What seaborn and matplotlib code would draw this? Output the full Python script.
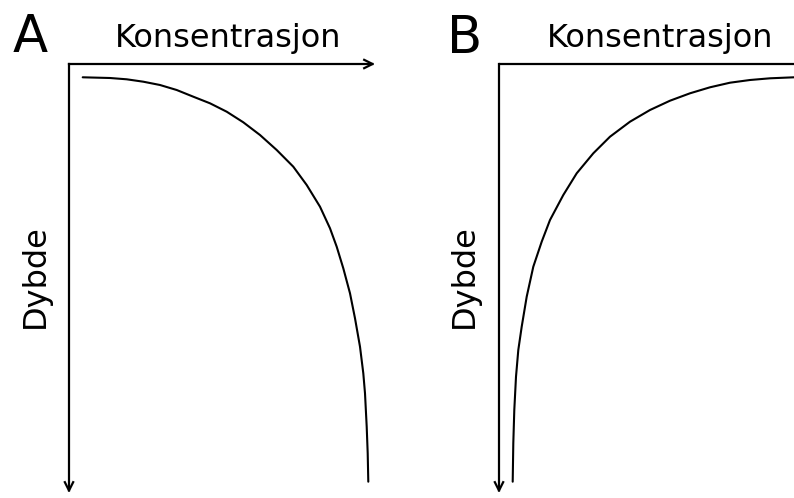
import matplotlib
matplotlib.use("Agg")
import matplotlib.pyplot as plt
import seaborn as sns
import pandas as pd

sns.set_theme(style="white")
plt.rcParams['font.family'] = ['DejaVu Sans']
plt.rcParams['text.color'] = 'black'

# Panel A: concentration decreasing with depth (axis units)
conc_a = [13.7, 41.0, 57.7, 74.3, 91.0, 107.7, 124.3, 141.0, 157.7, 174.3, 191.0,
          207.7, 224.3, 237.7, 251.0, 261.0, 267.7, 274.3, 281.0, 286.0, 291.0,
          294.3, 296.0, 297.7, 298.7, 299.3]
depth_a = [13.3, 14.0, 15.3, 17.7, 21.0, 26.0, 32.7, 39.3, 47.7, 58.3, 71.0,
           86.0, 102.7, 121.0, 142.7, 164.3, 182.7, 204.3, 229.3, 254.3, 282.7,
           309.3, 329.3, 362.7, 389.3, 417.7]

# Panel B: concentration increasing towards surface
conc_b = [13.7, 14.3, 15.3, 17.0, 19.3, 22.7, 27.7, 34.3, 42.7, 51.0, 64.3, 77.7,
          94.3, 111.0, 131.0, 151.0, 171.0, 191.0, 211.0, 231.0, 251.0, 271.0, 295.0]
depth_b = [417.7, 379.3, 346.0, 312.7, 286.0, 262.7, 232.7, 202.7, 177.7, 156.0,
           131.0, 109.3, 89.3, 72.7, 57.7, 46.0, 36.7, 29.3, 23.3, 18.7, 16.0,
           14.3, 13.3]

panel_labels = ["A", "B"]
x_label = "Konsentrasjon"
y_label = "Dybde"

W, H = 794, 498
fig = plt.figure(figsize=(W / 100, H / 100), dpi=100)

def px_axes(x0, y0, x1, y1):
    return fig.add_axes([x0 / W, 1 - y1 / H, (x1 - x0) / W, (y1 - y0) / H])

axA = px_axes(69, 64, 375, 493)
axB = px_axes(499, 64, 800, 493)

dfA = pd.DataFrame({"conc": conc_a, "depth": depth_a})
dfB = pd.DataFrame({"conc": conc_b, "depth": depth_b})

for ax, df, xmax in [(axA, dfA, 306), (axB, dfB, 301)]:
    sns.lineplot(data=df, x="conc", y="depth", ax=ax, color="black",
                 linewidth=1.5, sort=False, estimator=None)
    ax.lines[-1].set_solid_joinstyle("round")
    ax.set_xlim(0, xmax)
    ax.set_ylim(429, 0)
    ax.set_xticks([])
    ax.set_yticks([])
    ax.set_xlabel("")
    ax.set_ylabel("")
    for s in ax.spines.values():
        s.set_visible(False)
    ax.patch.set_alpha(0)

arrow_kw = dict(arrowstyle="->", color="black", lw=1.6, shrinkA=0, shrinkB=0,
                mutation_scale=15, capstyle="projecting")
line_kw = dict(arrowstyle="-", color="black", lw=1.6, shrinkA=0, shrinkB=0)

# Panel A axes
axA.annotate("", xy=(1, 1), xytext=(0, 1), xycoords="axes fraction",
             textcoords="axes fraction", arrowprops=arrow_kw, annotation_clip=False)
axA.annotate("", xy=(0, 0), xytext=(0, 1), xycoords="axes fraction",
             textcoords="axes fraction", arrowprops=arrow_kw, annotation_clip=False)
# Panel B axes
axB.annotate("", xy=(1, 1), xytext=(0, 1), xycoords="axes fraction",
             textcoords="axes fraction", arrowprops=line_kw, annotation_clip=False)
axB.annotate("", xy=(0, 0), xytext=(0, 1), xycoords="axes fraction",
             textcoords="axes fraction", arrowprops=arrow_kw, annotation_clip=False)

def ftext(x, y, s, **kw):
    fig.text(x / W, 1 - y / H, s, color="black", **kw)

ftext(30, 52, panel_labels[0], fontsize=37, ha="center", va="baseline")
ftext(465, 53, panel_labels[1], fontsize=37, ha="center", va="baseline")
ftext(228, 47, x_label, fontsize=23, ha="center", va="baseline")
ftext(660, 47, x_label, fontsize=23, ha="center", va="baseline")
ftext(35, 276, y_label, fontsize=23, ha="center", va="center", rotation=90)
ftext(464, 276, y_label, fontsize=23, ha="center", va="center", rotation=90)

fig.savefig("out.png", dpi=100, facecolor="white")
